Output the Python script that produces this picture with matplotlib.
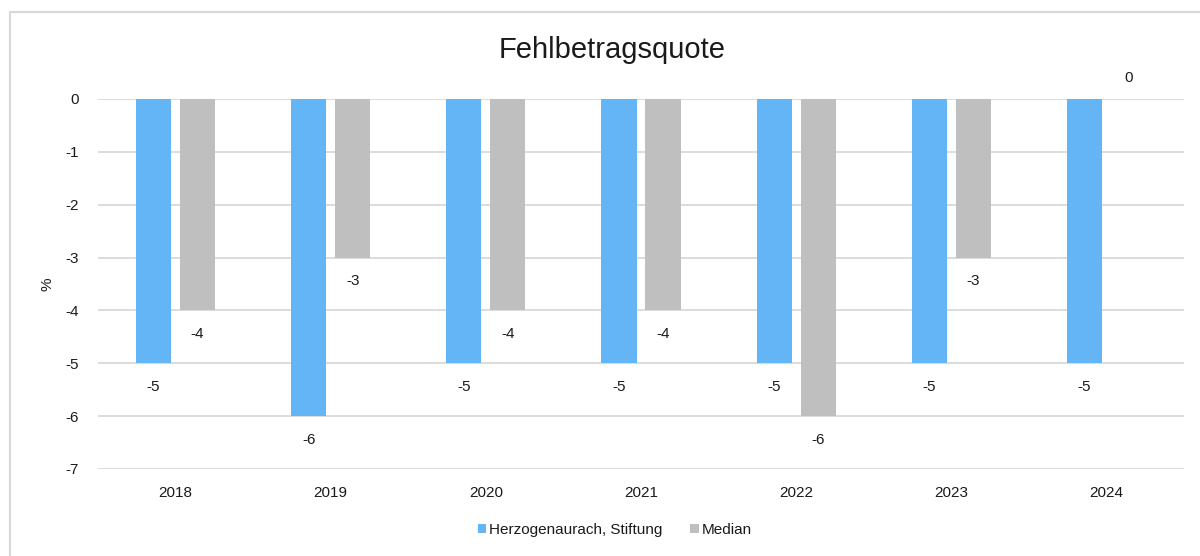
import matplotlib
matplotlib.use("Agg")
import matplotlib.pyplot as plt
from matplotlib.patches import Rectangle, Patch
import numpy as np

plt.rcParams['font.family'] = ['Liberation Sans', 'DejaVu Sans']

years = ["2018", "2019", "2020", "2021", "2022", "2023", "2024"]
stiftung = [-5, -6, -5, -5, -5, -5, -5]
median = [-4, -3, -4, -4, -6, -3, 0]
series_names = ["Herzogenaurach, Stiftung", "Median"]
colors = ["#63B5F6", "#BFBFBF"]
yticks = [0, -1, -2, -3, -4, -5, -6, -7]

W, H = 1200, 556
fig = plt.figure(figsize=(W / 100, H / 100), dpi=100)

# outer chart border
fig.patches.append(Rectangle((10 / W, -0.1), 1.2, 1 - 12 / H + 0.1, transform=fig.transFigure,
                             fill=False, edgecolor="#d9d9d9", linewidth=1.5))

ax = fig.add_axes([98 / W, (H - 469) / H, 1086 / W, (469 - 99) / H])
x = np.arange(len(years))
bw = 0.226
off = 0.142
text_color = "#1a1a1a"

for i, (vals, col) in enumerate(zip([stiftung, median], colors)):
    xs = x + (-off if i == 0 else off)
    ax.bar(xs, vals, width=bw, color=col, zorder=3)
    for xi, v in zip(xs, vals):
        dy = -17 if v < 0 else 15
        ax.annotate(f"{v}", (xi, v), xytext=(0, dy), textcoords="offset points",
                    ha="center", va="center", fontsize=11, color=text_color,
                    annotation_clip=False)

ax.set_xlim(-0.5, len(years) - 0.5)
ax.set_ylim(-7, 0)
ax.set_yticks(yticks)
ax.set_yticklabels([str(t) for t in yticks])
ax.set_xticks(x)
ax.set_xticklabels(years)
ax.tick_params(axis="both", length=0, labelsize=11, labelcolor=text_color)
ax.tick_params(axis="y", pad=14)
ax.tick_params(axis="x", pad=12)
for s in ax.spines.values():
    s.set_visible(False)
ax.yaxis.grid(True, color="#d9d9d9", linewidth=1.3, zorder=0)
ax.set_axisbelow(True)
ax.set_ylabel("%", fontsize=11, color=text_color)
ax.yaxis.set_label_coords(-(98 - 55) / 1086, 0.5)

fig.text(612 / W, 1 - 50 / H, "Fehlbetragsquote", ha="center", va="center",
         fontsize=21, color=text_color)

handles = [Patch(facecolor=c, edgecolor="none") for c in colors]
fig.legend(handles, series_names, loc="center", bbox_to_anchor=(615 / W, 1 - 530 / H),
           ncol=2, frameon=False, fontsize=11, handlelength=0.55, handleheight=0.55,
           handletextpad=0.2, columnspacing=1.8, labelcolor=text_color)

fig.savefig("out.png", dpi=100)
